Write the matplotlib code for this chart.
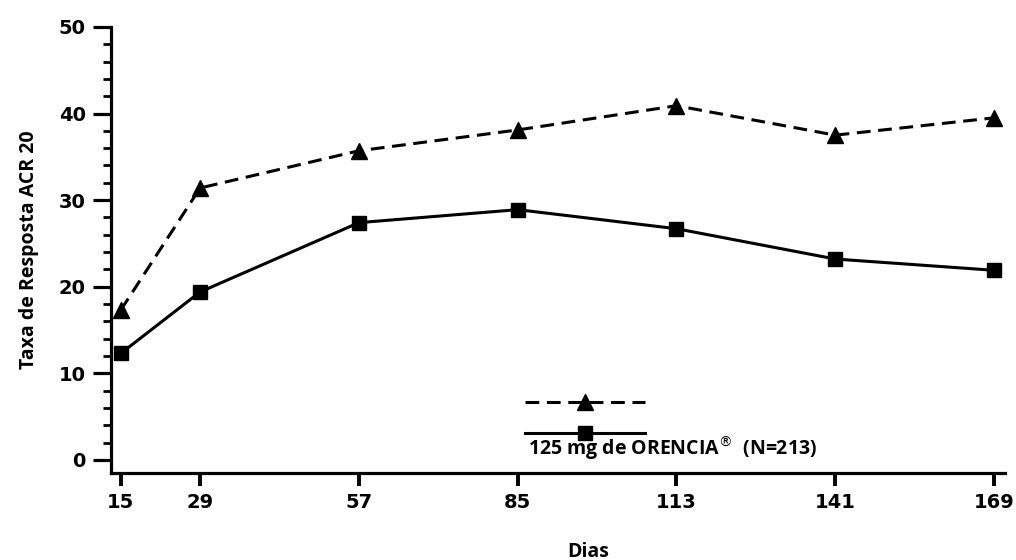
import matplotlib
matplotlib.use("Agg")
import matplotlib.pyplot as plt
from matplotlib.ticker import MultipleLocator

# Dados
dias = [15, 29, 57, 85, 113, 141, 169]
placebo = [17.3, 31.4, 35.7, 38.1, 40.9, 37.5, 39.5]
orencia = [12.3, 19.4, 27.4, 28.9, 26.7, 23.2, 21.9]
rotulo_orencia = "125 mg de ORENCIA$^{\\circledR}$  (N=213)"
y_ticks = [0, 10, 20, 30, 40, 50]

fonte_rotulo = dict(family="Open Sans", weight="bold", size=14)

fig = plt.figure(figsize=(10.16, 5.6), dpi=100)
ax = fig.add_axes([0.109, 0.156, 0.880, 0.796])

l1, = ax.plot(dias, placebo, color="black", lw=2.2, ls=(0, (4.5, 2.5)),
              marker="^", ms=12, clip_on=False)
l2, = ax.plot(dias, orencia, color="black", lw=2.2, ls="-",
              marker="s", ms=10.5, clip_on=False)

ax.set_xlim(13.24, 170.9)
ax.set_ylim(-1.46, 50)
ax.set_xticks(dias)
ax.set_yticks(y_ticks)
ax.yaxis.set_minor_locator(MultipleLocator(2))

for lado in ["top", "right"]:
    ax.spines[lado].set_visible(False)
for lado in ["left", "bottom"]:
    ax.spines[lado].set_linewidth(2.3)

ax.tick_params(axis="y", which="major", direction="out", length=13, width=2.3, pad=5)
ax.tick_params(axis="y", which="minor", direction="out", length=5.5, width=2.0)
ax.tick_params(axis="x", which="major", direction="out", length=9, width=2.8, pad=6)
for lbl in ax.get_xticklabels() + ax.get_yticklabels():
    lbl.set_fontfamily("DejaVu Sans")
    lbl.set_fontweight("bold")
    lbl.set_fontsize(14)

ax.set_ylabel("Taxa de Resposta ACR 20", fontdict=fonte_rotulo)
ax.yaxis.set_label_coords(-0.080, 0.5)
ax.set_xlabel("Dias", fontdict=fonte_rotulo)
ax.xaxis.set_label_coords(0.534, -0.155)

# Legenda (sem rótulo para a primeira série)
leg = ax.legend([l1, l2], ["", ""], loc="center left",
                bbox_to_anchor=(525 / 1016, 1 - 418 / 560),
                bbox_transform=fig.transFigure, frameon=False,
                fontsize=12, handlelength=7.2, handletextpad=0,
                borderpad=0, borderaxespad=0, labelspacing=0.8, numpoints=1)
ax.text(0.4666, 0.0397, rotulo_orencia, transform=ax.transAxes,
        ha="left", va="baseline", **fonte_rotulo)

fig.savefig("out.png", dpi=100)
